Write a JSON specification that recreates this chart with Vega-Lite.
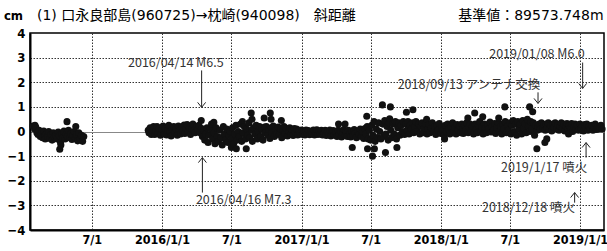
{
"$schema": "https://vega.github.io/schema/vega-lite/v6.json",
"width": 574, "height": 197,
"autosize": "none",
"padding": {"left": 30, "top": 33, "right": 3, "bottom": 21},
"background": "white",
"config": {"view": {"stroke": "#000", "strokeWidth": 1.5}},
"title": {"text": "(1) 口永良部島(960725)→枕崎(940098)　斜距離　　　　　　　  基準値：89573.748m", "anchor": "start", "frame": "group", "dx": 7, "offset": -25, "baseline": "alphabetic", "font": "DejaVu Sans, Noto Sans CJK JP", "fontSize": 14, "fontWeight": "normal", "color": "#000"},
"datasets": {
"pts": [
{"d":"2015-01-28","v":0.22},{"d":"2015-02-01","v":0.1},{"d":"2015-02-02","v":0.25},{"d":"2015-02-04","v":0.18},{"d":"2015-02-07","v":-0.05},{"d":"2015-02-10","v":-0.12},{"d":"2015-02-13","v":0.05},{"d":"2015-02-16","v":-0.2},{"d":"2015-02-19","v":-0.08},{"d":"2015-02-22","v":-0.25},{"d":"2015-02-25","v":0.02},{"d":"2015-02-28","v":-0.15},
{"d":"2015-03-01","v":-0.3},{"d":"2015-03-04","v":-0.1},{"d":"2015-03-07","v":-0.2},{"d":"2015-03-10","v":0.0},{"d":"2015-03-13","v":-0.28},{"d":"2015-03-16","v":-0.12},{"d":"2015-03-19","v":-0.35},{"d":"2015-03-22","v":-0.05},{"d":"2015-03-25","v":-0.22},{"d":"2015-03-28","v":-0.15},
{"d":"2015-04-01","v":-0.3},{"d":"2015-04-04","v":-0.02},{"d":"2015-04-07","v":-0.18},{"d":"2015-04-08","v":-0.72},{"d":"2015-04-10","v":-0.45},{"d":"2015-04-11","v":-0.55},{"d":"2015-04-13","v":-0.1},{"d":"2015-04-16","v":-0.25},{"d":"2015-04-19","v":0.02},{"d":"2015-04-22","v":-0.3},{"d":"2015-04-25","v":-0.12},{"d":"2015-04-27","v":0.4},{"d":"2015-04-28","v":-0.2},
{"d":"2015-05-01","v":0.05},{"d":"2015-05-04","v":-0.25},{"d":"2015-05-07","v":-0.1},{"d":"2015-05-10","v":-0.32},{"d":"2015-05-13","v":-0.15},{"d":"2015-05-16","v":0.0},{"d":"2015-05-19","v":-0.28},{"d":"2015-05-20","v":0.2},{"d":"2015-05-22","v":-0.12},{"d":"2015-05-25","v":-0.38},{"d":"2015-05-28","v":-0.05},
{"d":"2015-06-01","v":-0.3},{"d":"2015-06-04","v":-0.15},{"d":"2015-06-07","v":-0.4},{"d":"2015-06-10","v":-0.2},
{"d":"2015-11-26","v":0.05},{"d":"2015-11-28","v":-0.05},
{"d":"2015-12-01","v":0.15},{"d":"2015-12-04","v":-0.12},{"d":"2015-12-07","v":0.05},{"d":"2015-12-10","v":0.2},{"d":"2015-12-13","v":-0.12},{"d":"2015-12-16","v":0.02},{"d":"2015-12-19","v":0.2},{"d":"2015-12-22","v":-0.08},{"d":"2015-12-25","v":0.12},{"d":"2015-12-28","v":-0.15},
{"d":"2016-01-01","v":0.08},{"d":"2016-01-04","v":0.22},{"d":"2016-01-07","v":-0.1},{"d":"2016-01-10","v":0.12},{"d":"2016-01-13","v":-0.14},{"d":"2016-01-16","v":0.05},{"d":"2016-01-19","v":0.25},{"d":"2016-01-22","v":0.0},{"d":"2016-01-25","v":-0.18},{"d":"2016-01-28","v":0.1},
{"d":"2016-02-01","v":0.2},{"d":"2016-02-04","v":-0.05},{"d":"2016-02-07","v":0.1},{"d":"2016-02-10","v":-0.15},{"d":"2016-02-13","v":0.22},{"d":"2016-02-16","v":0.05},{"d":"2016-02-19","v":-0.1},{"d":"2016-02-22","v":0.18},{"d":"2016-02-25","v":0.02},{"d":"2016-02-28","v":0.26},
{"d":"2016-03-01","v":-0.08},{"d":"2016-03-04","v":0.12},{"d":"2016-03-07","v":0.28},{"d":"2016-03-10","v":0.0},{"d":"2016-03-13","v":0.15},{"d":"2016-03-16","v":-0.12},{"d":"2016-03-19","v":0.1},{"d":"2016-03-22","v":0.3},{"d":"2016-03-25","v":0.05},{"d":"2016-03-28","v":-0.05},
{"d":"2016-04-01","v":0.2},{"d":"2016-04-04","v":0.08},{"d":"2016-04-07","v":0.25},{"d":"2016-04-10","v":-0.05},{"d":"2016-04-13","v":0.45},{"d":"2016-04-14","v":0.12},{"d":"2016-04-16","v":-0.2},{"d":"2016-04-19","v":0.05},{"d":"2016-04-22","v":-0.35},{"d":"2016-04-25","v":-0.1},{"d":"2016-04-28","v":0.15},
{"d":"2016-05-01","v":-0.45},{"d":"2016-05-04","v":-0.15},{"d":"2016-05-07","v":0.1},{"d":"2016-05-10","v":0.3},{"d":"2016-05-13","v":-0.3},{"d":"2016-05-16","v":0.37},{"d":"2016-05-17","v":-0.05},{"d":"2016-05-19","v":-0.5},{"d":"2016-05-22","v":0.15},{"d":"2016-05-25","v":-0.2},{"d":"2016-05-28","v":-0.4},
{"d":"2016-06-01","v":0.05},{"d":"2016-06-04","v":-0.25},{"d":"2016-06-07","v":-0.55},{"d":"2016-06-10","v":0.2},{"d":"2016-06-13","v":-0.1},{"d":"2016-06-16","v":-0.35},{"d":"2016-06-19","v":0.1},{"d":"2016-06-22","v":-0.45},{"d":"2016-06-25","v":-0.15},{"d":"2016-06-28","v":0.0},
{"d":"2016-07-01","v":-0.65},{"d":"2016-07-02","v":-0.3},{"d":"2016-07-04","v":0.15},{"d":"2016-07-07","v":-0.5},{"d":"2016-07-10","v":-0.1},{"d":"2016-07-13","v":0.25},{"d":"2016-07-14","v":-0.7},{"d":"2016-07-16","v":-0.35},{"d":"2016-07-19","v":0.0},{"d":"2016-07-22","v":-0.2},{"d":"2016-07-25","v":0.3},{"d":"2016-07-28","v":-0.4},{"d":"2016-07-30","v":0.4},
{"d":"2016-08-01","v":-0.05},{"d":"2016-08-04","v":0.2},{"d":"2016-08-07","v":-0.3},{"d":"2016-08-09","v":-0.7},{"d":"2016-08-10","v":0.1},{"d":"2016-08-13","v":-0.15},{"d":"2016-08-16","v":0.35},{"d":"2016-08-19","v":-0.25},{"d":"2016-08-22","v":0.75},{"d":"2016-08-23","v":0.05},{"d":"2016-08-24","v":0.5},{"d":"2016-08-25","v":-0.4},{"d":"2016-08-28","v":0.15},
{"d":"2016-09-01","v":-0.1},{"d":"2016-09-04","v":0.25},{"d":"2016-09-07","v":-0.3},{"d":"2016-09-10","v":0.0},{"d":"2016-09-13","v":0.2},{"d":"2016-09-16","v":-0.2},{"d":"2016-09-19","v":0.1},{"d":"2016-09-22","v":-0.35},{"d":"2016-09-25","v":0.55},{"d":"2016-09-26","v":0.18},{"d":"2016-09-28","v":-0.05},
{"d":"2016-10-01","v":0.2},{"d":"2016-10-04","v":-0.15},{"d":"2016-10-07","v":0.08},{"d":"2016-10-10","v":-0.28},{"d":"2016-10-11","v":0.75},{"d":"2016-10-13","v":0.5},{"d":"2016-10-14","v":0.15},{"d":"2016-10-16","v":-0.05},{"d":"2016-10-19","v":0.22},{"d":"2016-10-22","v":-0.2},{"d":"2016-10-25","v":0.05},{"d":"2016-10-28","v":-0.1},
{"d":"2016-11-01","v":0.18},{"d":"2016-11-04","v":-0.12},{"d":"2016-11-07","v":0.1},{"d":"2016-11-09","v":0.45},{"d":"2016-11-10","v":-0.25},{"d":"2016-11-13","v":0.05},{"d":"2016-11-16","v":0.2},{"d":"2016-11-19","v":-0.08},{"d":"2016-11-22","v":0.12},{"d":"2016-11-25","v":-0.18},{"d":"2016-11-28","v":0.02},
{"d":"2016-12-01","v":0.15},{"d":"2016-12-04","v":-0.12},{"d":"2016-12-07","v":0.08},{"d":"2016-12-10","v":-0.16},{"d":"2016-12-13","v":0.12},{"d":"2016-12-16","v":-0.05},{"d":"2016-12-19","v":0.1},{"d":"2016-12-22","v":-0.14},{"d":"2016-12-25","v":0.05},{"d":"2016-12-28","v":-0.1},
{"d":"2017-01-01","v":0.06},{"d":"2017-01-04","v":-0.12},{"d":"2017-01-07","v":0.02},{"d":"2017-01-10","v":-0.14},{"d":"2017-01-13","v":0.06},{"d":"2017-01-16","v":-0.08},{"d":"2017-01-19","v":0.04},{"d":"2017-01-22","v":-0.13},{"d":"2017-01-25","v":0.0},{"d":"2017-01-28","v":-0.1},
{"d":"2017-02-01","v":0.06},{"d":"2017-02-04","v":-0.14},{"d":"2017-02-07","v":-0.02},{"d":"2017-02-10","v":0.07},{"d":"2017-02-13","v":-0.12},{"d":"2017-02-16","v":0.02},{"d":"2017-02-19","v":-0.1},{"d":"2017-02-22","v":0.05},{"d":"2017-02-25","v":-0.14},{"d":"2017-02-28","v":0.0},
{"d":"2017-03-01","v":-0.08},{"d":"2017-03-04","v":0.05},{"d":"2017-03-07","v":-0.16},{"d":"2017-03-10","v":0.0},{"d":"2017-03-13","v":-0.12},{"d":"2017-03-16","v":0.06},{"d":"2017-03-19","v":-0.18},{"d":"2017-03-22","v":-0.02},{"d":"2017-03-25","v":0.04},{"d":"2017-03-28","v":-0.14},
{"d":"2017-04-01","v":-0.02},{"d":"2017-04-04","v":-0.2},{"d":"2017-04-07","v":0.05},{"d":"2017-04-08","v":0.3},{"d":"2017-04-10","v":-0.1},{"d":"2017-04-13","v":0.02},{"d":"2017-04-16","v":-0.22},{"d":"2017-04-19","v":-0.05},{"d":"2017-04-22","v":0.08},{"d":"2017-04-25","v":0.3},{"d":"2017-04-26","v":-0.15},{"d":"2017-04-28","v":0.0},
{"d":"2017-05-01","v":-0.2},{"d":"2017-05-04","v":0.05},{"d":"2017-05-07","v":-0.1},{"d":"2017-05-10","v":-0.22},{"d":"2017-05-13","v":0.02},{"d":"2017-05-14","v":-0.65},{"d":"2017-05-16","v":-0.15},{"d":"2017-05-19","v":0.08},{"d":"2017-05-22","v":-0.08},{"d":"2017-05-25","v":-0.25},{"d":"2017-05-28","v":0.0},
{"d":"2017-06-01","v":-0.12},{"d":"2017-06-04","v":0.1},{"d":"2017-06-07","v":-0.2},{"d":"2017-06-10","v":0.0},{"d":"2017-06-13","v":-0.28},{"d":"2017-06-16","v":0.12},{"d":"2017-06-19","v":-0.1},{"d":"2017-06-21","v":0.62},{"d":"2017-06-22","v":0.2},{"d":"2017-06-23","v":-0.7},{"d":"2017-06-25","v":-0.3},{"d":"2017-06-28","v":0.05},
{"d":"2017-07-01","v":-0.35},{"d":"2017-07-04","v":0.25},{"d":"2017-07-06","v":-1.0},{"d":"2017-07-07","v":-0.15},{"d":"2017-07-10","v":0.4},{"d":"2017-07-11","v":-0.7},{"d":"2017-07-13","v":-0.4},{"d":"2017-07-16","v":0.1},{"d":"2017-07-19","v":-0.25},{"d":"2017-07-22","v":0.35},{"d":"2017-07-25","v":0.0},{"d":"2017-07-28","v":-0.3},
{"d":"2017-08-01","v":1.08},{"d":"2017-08-02","v":0.3},{"d":"2017-08-04","v":-0.2},{"d":"2017-08-07","v":0.45},{"d":"2017-08-09","v":-0.85},{"d":"2017-08-10","v":-0.1},{"d":"2017-08-13","v":0.2},{"d":"2017-08-16","v":-0.35},{"d":"2017-08-19","v":0.35},{"d":"2017-08-20","v":0.52},{"d":"2017-08-22","v":1.0},{"d":"2017-08-23","v":0.05},{"d":"2017-08-25","v":-0.25},{"d":"2017-08-28","v":0.3},
{"d":"2017-09-01","v":-0.1},{"d":"2017-09-04","v":0.4},{"d":"2017-09-07","v":-0.3},{"d":"2017-09-08","v":-0.65},{"d":"2017-09-10","v":0.15},{"d":"2017-09-13","v":0.35},{"d":"2017-09-16","v":-0.15},{"d":"2017-09-19","v":0.25},{"d":"2017-09-22","v":0.0},{"d":"2017-09-25","v":0.4},{"d":"2017-09-28","v":-0.12},
{"d":"2017-10-01","v":0.3},{"d":"2017-10-03","v":0.78},{"d":"2017-10-04","v":0.05},{"d":"2017-10-07","v":0.4},{"d":"2017-10-10","v":-0.1},{"d":"2017-10-13","v":0.25},{"d":"2017-10-16","v":0.1},{"d":"2017-10-19","v":0.35},{"d":"2017-10-20","v":0.88},{"d":"2017-10-22","v":-0.05},{"d":"2017-10-25","v":0.2},{"d":"2017-10-28","v":0.4},
{"d":"2017-11-01","v":0.0},{"d":"2017-11-04","v":0.3},{"d":"2017-11-07","v":-0.1},{"d":"2017-11-10","v":0.2},{"d":"2017-11-13","v":0.35},{"d":"2017-11-16","v":-0.05},{"d":"2017-11-19","v":0.15},{"d":"2017-11-22","v":0.3},{"d":"2017-11-25","v":0.5},{"d":"2017-11-26","v":-0.1},{"d":"2017-11-28","v":0.1},
{"d":"2017-12-01","v":0.28},{"d":"2017-12-04","v":-0.05},{"d":"2017-12-07","v":0.15},{"d":"2017-12-10","v":0.35},{"d":"2017-12-13","v":0.0},{"d":"2017-12-16","v":0.2},{"d":"2017-12-19","v":-0.12},{"d":"2017-12-22","v":0.25},{"d":"2017-12-25","v":0.05},{"d":"2017-12-28","v":0.32},
{"d":"2018-01-01","v":-0.08},{"d":"2018-01-04","v":0.18},{"d":"2018-01-07","v":0.05},{"d":"2018-01-10","v":-0.15},{"d":"2018-01-11","v":-0.3},{"d":"2018-01-13","v":0.25},{"d":"2018-01-16","v":0.0},{"d":"2018-01-19","v":0.3},{"d":"2018-01-22","v":0.1},{"d":"2018-01-25","v":-0.1},{"d":"2018-01-28","v":0.2},
{"d":"2018-02-01","v":0.35},{"d":"2018-02-04","v":0.0},{"d":"2018-02-07","v":0.15},{"d":"2018-02-10","v":-0.1},{"d":"2018-02-13","v":0.28},{"d":"2018-02-16","v":0.05},{"d":"2018-02-19","v":0.22},{"d":"2018-02-22","v":-0.05},{"d":"2018-02-25","v":0.3},{"d":"2018-02-28","v":0.1},
{"d":"2018-03-01","v":-0.08},{"d":"2018-03-04","v":0.25},{"d":"2018-03-07","v":0.05},{"d":"2018-03-10","v":0.35},{"d":"2018-03-13","v":0.55},{"d":"2018-03-14","v":-0.05},{"d":"2018-03-16","v":0.18},{"d":"2018-03-19","v":0.3},{"d":"2018-03-22","v":0.0},{"d":"2018-03-25","v":0.2},{"d":"2018-03-28","v":-0.1},{"d":"2018-03-31","v":0.75},
{"d":"2018-04-01","v":0.3},{"d":"2018-04-04","v":0.1},{"d":"2018-04-07","v":-0.05},{"d":"2018-04-10","v":0.25},{"d":"2018-04-13","v":0.4},{"d":"2018-04-16","v":0.0},{"d":"2018-04-19","v":0.18},{"d":"2018-04-21","v":0.6},{"d":"2018-04-22","v":-0.1},{"d":"2018-04-25","v":0.3},{"d":"2018-04-28","v":0.12},
{"d":"2018-05-01","v":-0.05},{"d":"2018-05-04","v":0.28},{"d":"2018-05-07","v":0.1},{"d":"2018-05-10","v":0.38},{"d":"2018-05-13","v":-0.02},{"d":"2018-05-16","v":0.2},{"d":"2018-05-19","v":0.05},{"d":"2018-05-22","v":0.32},{"d":"2018-05-25","v":-0.08},{"d":"2018-05-28","v":0.15},
{"d":"2018-06-01","v":0.35},{"d":"2018-06-02","v":0.55},{"d":"2018-06-04","v":0.0},{"d":"2018-06-07","v":0.2},{"d":"2018-06-10","v":-0.1},{"d":"2018-06-13","v":0.3},{"d":"2018-06-16","v":0.1},{"d":"2018-06-18","v":1.0},{"d":"2018-06-19","v":0.4},{"d":"2018-06-22","v":-0.05},{"d":"2018-06-25","v":0.22},{"d":"2018-06-28","v":0.05},
{"d":"2018-07-01","v":0.35},{"d":"2018-07-04","v":-0.1},{"d":"2018-07-07","v":0.25},{"d":"2018-07-10","v":0.45},{"d":"2018-07-13","v":0.0},{"d":"2018-07-16","v":0.3},{"d":"2018-07-19","v":-0.15},{"d":"2018-07-22","v":0.4},{"d":"2018-07-25","v":0.1},{"d":"2018-07-28","v":0.3},
{"d":"2018-08-01","v":-0.1},{"d":"2018-08-04","v":0.45},{"d":"2018-08-07","v":0.15},{"d":"2018-08-10","v":0.3},{"d":"2018-08-13","v":-0.05},{"d":"2018-08-16","v":0.5},{"d":"2018-08-19","v":0.2},{"d":"2018-08-22","v":1.0},{"d":"2018-08-23","v":0.0},{"d":"2018-08-25","v":0.4},{"d":"2018-08-28","v":0.1},{"d":"2018-08-30","v":0.8},
{"d":"2018-09-01","v":0.35},{"d":"2018-09-04","v":-0.15},{"d":"2018-09-07","v":0.25},{"d":"2018-09-10","v":-0.7},{"d":"2018-09-11","v":0.05},{"d":"2018-09-13","v":0.2},{"d":"2018-09-16","v":0.3},{"d":"2018-09-19","v":0.1},{"d":"2018-09-22","v":0.35},{"d":"2018-09-25","v":0.15},{"d":"2018-09-28","v":0.28},
{"d":"2018-10-01","v":-0.45},{"d":"2018-10-02","v":0.05},{"d":"2018-10-04","v":0.3},{"d":"2018-10-06","v":-0.3},{"d":"2018-10-07","v":0.15},{"d":"2018-10-10","v":0.35},{"d":"2018-10-13","v":0.08},{"d":"2018-10-16","v":0.25},{"d":"2018-10-19","v":0.02},{"d":"2018-10-22","v":0.3},{"d":"2018-10-25","v":0.15},{"d":"2018-10-28","v":0.35},
{"d":"2018-11-01","v":0.1},{"d":"2018-11-04","v":0.28},{"d":"2018-11-07","v":0.05},{"d":"2018-11-10","v":0.2},{"d":"2018-11-13","v":0.35},{"d":"2018-11-16","v":0.12},{"d":"2018-11-19","v":0.3},{"d":"2018-11-22","v":0.02},{"d":"2018-11-25","v":0.22},{"d":"2018-11-28","v":0.32},
{"d":"2018-12-01","v":0.08},{"d":"2018-12-02","v":-0.1},{"d":"2018-12-04","v":0.25},{"d":"2018-12-07","v":0.15},{"d":"2018-12-10","v":0.32},{"d":"2018-12-13","v":0.0},{"d":"2018-12-16","v":0.2},{"d":"2018-12-19","v":0.3},{"d":"2018-12-22","v":0.1},{"d":"2018-12-25","v":0.25},{"d":"2018-12-28","v":0.05},
{"d":"2019-01-01","v":0.3},{"d":"2019-01-04","v":0.12},{"d":"2019-01-07","v":0.22},{"d":"2019-01-10","v":0.02},{"d":"2019-01-13","v":0.28},{"d":"2019-01-16","v":0.15},{"d":"2019-01-19","v":0.3},{"d":"2019-01-22","v":0.05},{"d":"2019-01-25","v":0.2},{"d":"2019-01-28","v":0.1},
{"d":"2019-02-01","v":0.25},{"d":"2019-02-04","v":0.05},{"d":"2019-02-07","v":0.18},{"d":"2019-02-10","v":0.3},{"d":"2019-02-13","v":0.08},{"d":"2019-02-16","v":0.2},{"d":"2019-02-19","v":0.1},{"d":"2019-02-22","v":0.15},{"d":"2019-02-25","v":0.25},{"d":"2019-02-28","v":0.1}
],
"arr": [
{"d":"2016-04-14","v":0.98,"v2":2.48,"dir":"down"},
{"d":"2016-04-16","v":-1.06,"v2":-2.48,"dir":"up"},
{"d":"2018-09-13","v":1.14,"v2":1.59,"dir":"down"},
{"d":"2019-01-08","v":1.75,"v2":2.8,"dir":"down"},
{"d":"2019-01-17","v":-0.45,"v2":-1.06,"dir":"up"},
{"d":"2018-12-18","v":-2.48,"v2":-2.89,"dir":"up"}
],
"ann": [
{"d":"2015-10-04","v":2.78,"t":"2016/04/14 M6.5"},
{"d":"2016-03-30","v":-2.8,"t":"2016/04/16 M7.3"},
{"d":"2017-09-10","v":1.87,"t":"2018/09/13 アンテナ交換"},
{"d":"2018-05-08","v":3.13,"t":"2019/01/08 M6.0"},
{"d":"2018-06-08","v":-1.5,"t":"2019/1/17 噴火"},
{"d":"2018-04-19","v":-3.09,"t":"2018/12/18 噴火"}
]
},
"encoding": {
"x": {"field": "d", "type": "temporal",
 "scale": {"type": "utc", "domain": [{"year":2015,"month":1,"date":20,"utc":true},{"year":2019,"month":3,"date":5,"utc":true}]},
 "axis": {"title": null,
  "values": [{"year":2015,"month":7,"date":1,"utc":true},{"year":2016,"month":1,"date":1,"utc":true},{"year":2016,"month":7,"date":1,"utc":true},{"year":2017,"month":1,"date":1,"utc":true},{"year":2017,"month":7,"date":1,"utc":true},{"year":2018,"month":1,"date":1,"utc":true},{"year":2018,"month":7,"date":1,"utc":true},{"year":2019,"month":1,"date":1,"utc":true}],
  "labelExpr": "utcmonth(datum.value)==0 ? utcFormat(datum.value,'%Y/%-m/%-d') : utcFormat(datum.value,'%-m/%-d')",
  "grid": true, "gridColor": "#333", "gridDash": [1.5,1.5], "gridWidth": 1,
  "ticks": false, "domainColor": "#000", "domainWidth": 2,
  "labelFont": "Liberation Sans Narrow, DejaVu Sans Condensed, sans-serif", "labelFontSize": 12.5, "labelFontWeight": "bold", "labelColor": "#000",
  "labelPadding": 3, "labelFlush": false, "labelOverlap": false}},
"y": {"field": "v", "type": "quantitative",
 "scale": {"domain": [-4,4], "nice": false, "zero": false},
 "axis": {"title": "cm", "titleAngle": 0, "titleX": -17, "titleY": -18, "titleAlign": "center", "titleBaseline": "middle",
  "titleFont": "Liberation Sans Narrow, DejaVu Sans Condensed, sans-serif", "titleFontSize": 13, "titleFontWeight": "bold", "titleColor": "#000",
  "values": [-4,-3,-2,-1,0,1,2,3,4], "format": "d",
  "grid": true,
  "gridColor": {"condition": {"test": "datum.value===0", "value": "#888"}, "value": "#333"},
  "gridDash": {"condition": {"test": "datum.value===0", "value": []}, "value": [1.5,1.5]},
  "gridOpacity": {"condition": {"test": "abs(datum.value)===4", "value": 0}, "value": 1},
  "ticks": false, "domainColor": "#000", "domainWidth": 2,
  "labelFont": "Liberation Sans Narrow, DejaVu Sans Condensed, sans-serif", "labelFontSize": 13, "labelFontWeight": "bold", "labelColor": "#000", "labelPadding": 5}}
},
"layer": [
{"data": {"name": "pts"}, "mark": {"type": "point", "filled": true, "color": "#111", "size": 50, "opacity": 1}},
{"data": {"name": "arr"}, "mark": {"type": "rule", "color": "#222", "strokeWidth": 1}, "encoding": {"y2": {"field": "v2"}}},
{"data": {"name": "arr"}, "transform": [{"filter": "datum.dir==='down'"}], "mark": {"type": "point", "shape": "M-0.8,-1L0,0L0.8,-1", "filled": false, "stroke": "#222", "strokeWidth": 1, "size": 100, "opacity": 1}},
{"data": {"name": "arr"}, "transform": [{"filter": "datum.dir==='up'"}], "mark": {"type": "point", "shape": "M-0.8,1L0,0L0.8,1", "filled": false, "stroke": "#222", "strokeWidth": 1, "size": 100, "opacity": 1}},
{"data": {"name": "ann"}, "mark": {"type": "text", "align": "left", "baseline": "middle", "font": "Noto Sans CJK JP", "fontSize": 12.5, "color": "#333"}, "encoding": {"text": {"field": "t"}}}
]
}
